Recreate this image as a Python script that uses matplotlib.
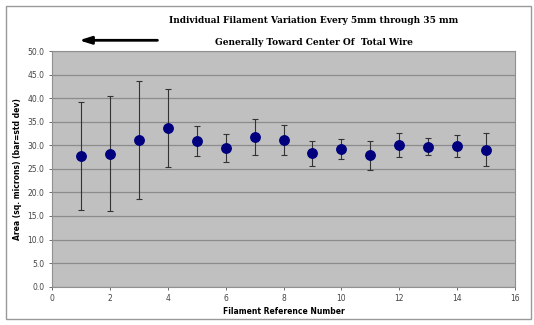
import numpy as np
import matplotlib
matplotlib.use("Agg")
import matplotlib.pyplot as plt
from matplotlib.patches import Rectangle, FancyArrowPatch

# data
filament = [1, 2, 3, 4, 5, 6, 7, 8, 9, 10, 11, 12, 13, 14, 15]
mean_area = [27.7, 28.2, 31.1, 33.7, 30.9, 29.4, 31.8, 31.1, 28.3, 29.2, 27.9, 30.0, 29.7, 29.8, 29.1]
std_dev = [11.5, 12.2, 12.6, 8.3, 3.1, 3.0, 3.8, 3.2, 2.7, 2.2, 3.1, 2.5, 1.8, 2.3, 3.5]
y_ticks = np.arange(0, 50.1, 5)
x_ticks = np.arange(0, 17, 2)

fig = plt.figure(figsize=(5.34, 3.25), dpi=100)
fig.patch.set_facecolor("white")
fig.patches.append(Rectangle((0.012, 0.02), 0.982, 0.962, transform=fig.transFigure,
                             fill=False, edgecolor="#999999", linewidth=1.0))

ax = fig.add_axes([0.0974, 0.118, 0.867, 0.725])
ax.set_facecolor("#c0c0c0")
ax.set_axisbelow(True)
ax.yaxis.grid(True, color="#8c8c8c", linewidth=0.9)
for s in ax.spines.values():
    s.set_color("#909090")
    s.set_linewidth(0.8)

ax.errorbar(filament, mean_area, yerr=std_dev, fmt="o", color="#00007f",
            markersize=6.8, ecolor="#333333", elinewidth=0.8, capsize=2, capthick=0.8,
            zorder=3)

ax.set_xlim(0, 16)
ax.set_ylim(0, 50)
ax.set_xticks(x_ticks)
ax.set_yticks(y_ticks)
ax.set_yticklabels([f"{v:.1f}" for v in y_ticks])
ax.tick_params(labelsize=5.5, colors="#555555", length=2, width=0.6)
for lab in ax.get_xticklabels() + ax.get_yticklabels():
    lab.set_color("#444444")

ax.set_xlabel("Filament Reference Number", fontsize=5.5, fontweight="bold", labelpad=3)
ax.set_ylabel("Area (sq. microns) (bar=std dev)", fontsize=5.5, fontweight="bold", labelpad=4)

fig.text(0.587, 0.938, "Individual Filament Variation Every 5mm through 35 mm",
         ha="center", va="center", fontsize=6.5, family="DejaVu Serif", fontweight="bold")
fig.text(0.587, 0.870, "Generally Toward Center Of  Total Wire",
         ha="center", va="center", fontsize=6.5, family="DejaVu Serif", fontweight="bold")

# arrow pointing left
fig.add_artist(FancyArrowPatch(
    (0.30, 0.876), (0.143, 0.876), transform=fig.transFigure,
    arrowstyle="-|>,head_length=7,head_width=2.2", color="black", linewidth=2.0))

fig.savefig("out.png", dpi=100)
